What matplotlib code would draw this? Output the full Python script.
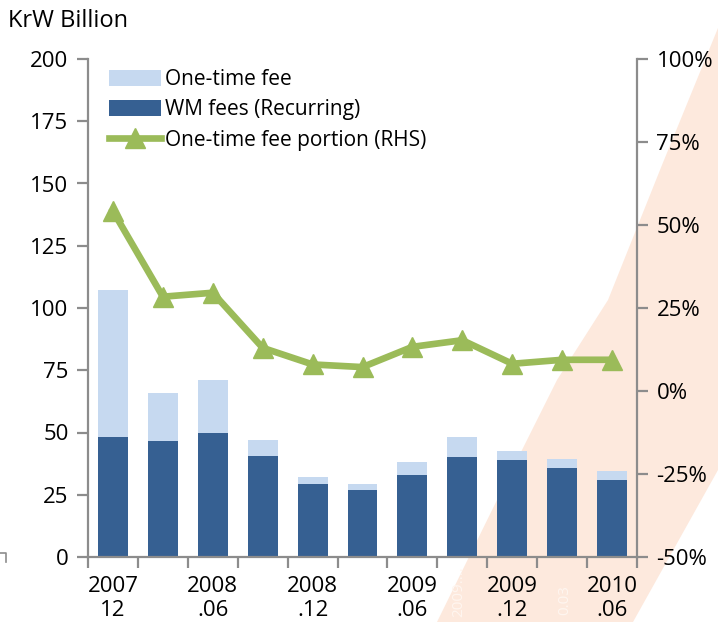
import numpy as np
import matplotlib.pyplot as plt
from matplotlib.patches import Polygon, Patch
from matplotlib.lines import Line2D
from matplotlib.ticker import FixedLocator

plt.rcParams['font.family'] = ['Open Sans', 'DejaVu Sans']

# Quarterly fee data, KrW billion
periods = ['2007.12', '2008.03', '2008.06', '2008.09', '2008.12', '2009.03',
           '2009.06', '2009.09', '2009.12', '2010.03', '2010.06']
wm_fees = [48.3, 46.6, 49.7, 40.6, 29.4, 26.9, 32.9, 40.3, 39.0, 35.9, 30.9]
one_time = [58.9, 19.1, 21.4, 6.3, 2.9, 2.3, 5.4, 7.8, 3.7, 3.3, 3.6]
portion = [54.2, 28.4, 29.6, 13.0, 8.0, 7.2, 13.3, 15.3, 8.2, 9.4, 9.4]  # % of total

tick_labels = ['2007\n12', '2008\n.06', '2008\n.12', '2009\n.06', '2009\n.12', '2010\n.06']

light_blue = '#c6d9f0'
dark_blue = '#366092'
green = '#9bbb59'
axis_gray = '#8c8c8c'

W, H = 718, 622
fig = plt.figure(figsize=(W / 100, H / 100), dpi=100)

# soft peach band in the background
band_px = [(437, 622), (497, 500), (557, 380), (608, 300), (662, 165), (718, 28),
           (718, 470), (633, 622)]
band = Polygon([(x / W, 1 - y / H) for x, y in band_px], closed=True,
               transform=fig.transFigure, facecolor='#fde9dd', edgecolor='none', zorder=-2)
fig.patches.append(band)
fig.text(459 / W, 1 - 592 / H, '2009....', rotation=90, color='#fff6f0', fontsize=11,
         ha='center', va='center', zorder=-1)
fig.text(565 / W, 1 - 600 / H, '0.03', rotation=90, color='#fff6f0', fontsize=11,
         ha='center', va='center', zorder=-1)

ax = fig.add_axes([88 / W, 1 - 557 / H, (637 - 88) / W, (557 - 59) / H])
ax.patch.set_alpha(0)

x = np.arange(len(periods))
ax.bar(x, wm_fees, width=0.6, color=dark_blue, edgecolor='none', zorder=2)
ax.bar(x, one_time, width=0.6, bottom=wm_fees, color=light_blue, edgecolor='none', zorder=2)

ax.set_xlim(-0.5, len(periods) - 0.5)
ax.set_ylim(0, 200)
ax.set_yticks(np.arange(0, 201, 25))

ax2 = ax.twinx()
ax2.plot(x, portion, color=green, lw=4.8, marker='^', ms=14, zorder=3)
ax2.set_ylim(-50, 100)
ax2.set_yticks(np.arange(-50, 101, 25))
ax2.set_yticklabels([f'{v}%' for v in range(-50, 101, 25)])

# x ticks sit between bars, labels under every second bar
ax.xaxis.set_major_locator(FixedLocator(np.arange(-0.5, len(periods), 1)))
ax.set_xticklabels([])
ax.xaxis.set_minor_locator(FixedLocator(x[::2]))
ax.set_xticklabels(tick_labels, minor=True)
ax.tick_params(axis='x', which='minor', length=0, pad=14, labelsize=16, color=axis_gray)
ax.tick_params(axis='x', which='major', length=8, width=1.6, color=axis_gray)
for t in ax.xaxis.get_minor_ticks():
    t.label1.set_linespacing(1.15)

ax.tick_params(axis='y', length=8, width=1.6, color=axis_gray, labelsize=16, pad=6)
ax2.tick_params(axis='y', length=8, width=1.6, color=axis_gray, labelsize=16, pad=6)

for a in (ax, ax2):
    a.spines['top'].set_visible(False)
    for s in ('left', 'right', 'bottom'):
        a.spines[s].set_color(axis_gray)
        a.spines[s].set_linewidth(1.6)
ax.spines['right'].set_visible(False)
ax2.spines['left'].set_visible(False)
ax2.spines['bottom'].set_visible(False)

fig.text(8 / W, 1 - 21 / H, 'KrW Billion', fontsize=17, ha='left', va='center')

handles = [Patch(facecolor=light_blue, edgecolor='none'),
           Patch(facecolor=dark_blue, edgecolor='none'),
           Line2D([], [], color=green, lw=4.8, marker='^', ms=14)]
ax.legend(handles, ['One-time fee', 'WM fees (Recurring)', 'One-time fee portion (RHS)'],
          loc='upper left', bbox_to_anchor=(0.015, 1.005), frameon=False, fontsize=15,
          handlelength=2.5, handleheight=0.8, handletextpad=0.2, labelspacing=0.45,
          borderaxespad=0.2)

# small bracket mark at the lower left edge
fig.lines.append(Line2D([0, 6 / W, 6 / W], [1 - 553 / H, 1 - 553 / H, 1 - 562 / H],
                        transform=fig.transFigure, color=axis_gray, lw=1.2))

fig.savefig('out.png', dpi=100)
